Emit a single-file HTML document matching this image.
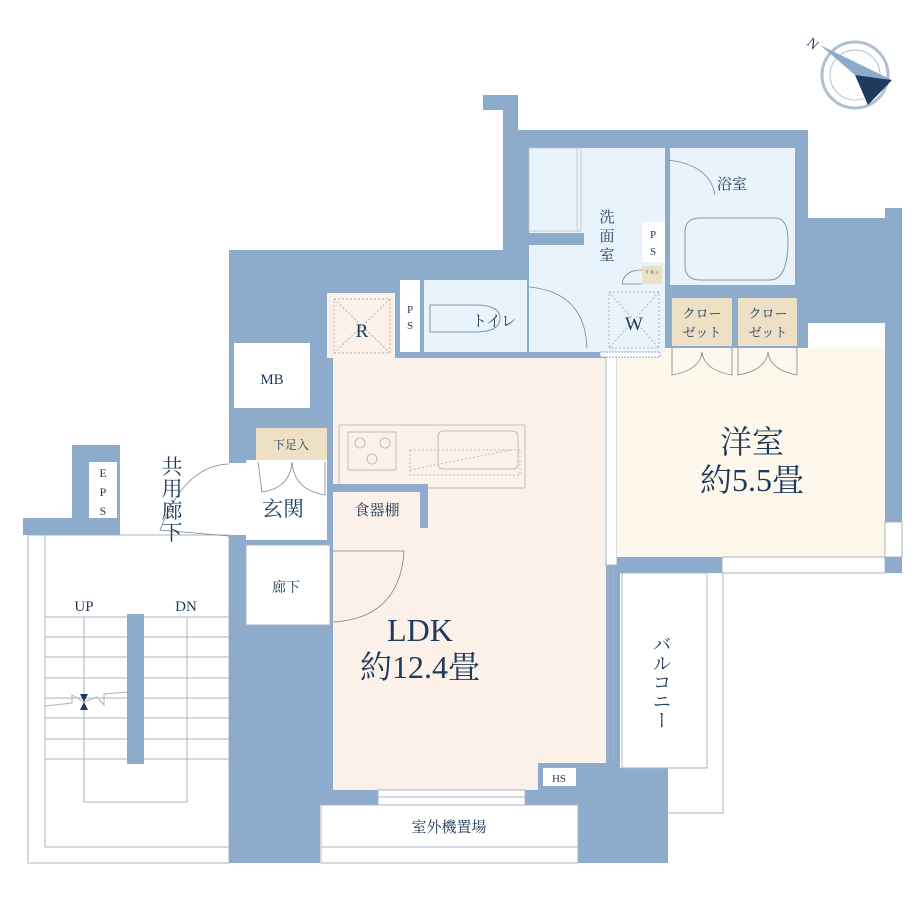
<!DOCTYPE html>
<html><head><meta charset="utf-8"><style>
body{margin:0;background:#fff}
svg{display:block}
text{font-family:"Liberation Serif","Noto Serif CJK SC",serif;fill:#1e3a5c}
</style></head><body>
<svg width="920" height="920" viewBox="0 0 920 920" xmlns="http://www.w3.org/2000/svg">
<rect width="920" height="920" fill="#fff"/>
<g stroke="#a9b5c2" stroke-width="1" fill="none">
<rect x="28" y="535" width="201" height="328"/>
<line x1="45" y1="535" x2="45" y2="847"/><line x1="45" y1="847" x2="229" y2="847"/>
<rect x="84" y="617" width="103" height="185"/>
<line x1="45" y1="617" x2="229" y2="617"/><line x1="45" y1="637" x2="229" y2="637"/><line x1="45" y1="657" x2="229" y2="657"/><line x1="45" y1="678" x2="229" y2="678"/><line x1="45" y1="698" x2="229" y2="698"/><line x1="45" y1="718" x2="229" y2="718"/><line x1="45" y1="739" x2="229" y2="739"/><line x1="45" y1="759" x2="229" y2="759"/>
<polyline points="45,706 72,703 72,695 84,702 97,697 104,705 104,694 127,692"/>
</g>
<rect x="127" y="614" width="17" height="150" fill="#8dabcb"/>
<path d="M80,694 L88,694 L84,702 Z M80,710 L88,710 L84,702 Z" fill="#1e3a5c"/>
<text x="84" y="611" font-size="15" text-anchor="middle">UP</text>
<text x="186" y="611" font-size="15" text-anchor="middle">DN</text>
<path d="M23,518 H72 V445 H120 V535 H23 Z" fill="#8dabcb"/>
<rect x="89" y="462" width="28" height="56" fill="#fff"/>
<text x="103" y="477" font-size="12" text-anchor="middle">E</text>
<text x="103" y="496" font-size="12" text-anchor="middle">P</text>
<text x="103" y="515" font-size="12" text-anchor="middle">S</text>
<path d="M229,250 H503 V110 H483 V95 H518 V130 H808 V218 H885 V208 H902 V573 H885 V557 H722 V573 H620 V763 H668 V863 H578 V805 H320 V863 H229 Z" fill="#8dabcb"/>
<rect x="620" y="573" width="102" height="195" fill="#fff"/>
<g stroke="#a9b5c2" fill="none">
<rect x="622" y="573" width="85" height="195"/>
<polyline points="668,813 723,813 723,573"/>
<line x1="608" y1="565" x2="608" y2="760"/><line x1="613" y1="565" x2="613" y2="760"/>
</g>
<rect x="321" y="805" width="257" height="58" fill="#fff" stroke="#a9b5c2"/>
<line x1="321" y1="847" x2="578" y2="847" stroke="#a9b5c2"/>
<text x="449" y="832" font-size="15" text-anchor="middle">室外機置場</text>
<path d="M333,358 H606 V763 H538 V790 H333 Z" fill="#fcf1e8"/>
<rect x="378" y="790" width="147" height="15" fill="#fff" stroke="#a9b5c2"/>
<line x1="378" y1="797" x2="525" y2="797" stroke="#a9b5c2"/>
<rect x="543" y="768" width="33" height="18" fill="#fff"/>
<text x="559" y="782" font-size="11" text-anchor="middle">HS</text>
<rect x="606" y="352" width="11" height="213" fill="#fff" stroke="#a9b5c2"/>
<rect x="617" y="348" width="268" height="209" fill="#fef8ec"/>
<rect x="885" y="522" width="17" height="35" fill="#fff" stroke="#a9b5c2"/>
<rect x="722" y="557" width="163" height="16" fill="#fff" stroke="#a9b5c2"/>
<rect x="808" y="323" width="77" height="25" fill="#fff"/>
<rect x="672" y="298" width="60" height="48" fill="#ede0c4"/>
<rect x="738" y="298" width="59" height="48" fill="#ede0c4"/>
<text x="702" y="318" font-size="13" text-anchor="middle">クロー</text>
<text x="702" y="337" font-size="13" text-anchor="middle">ゼット</text>
<text x="768" y="318" font-size="13" text-anchor="middle">クロー</text>
<text x="768" y="337" font-size="13" text-anchor="middle">ゼット</text>
<g stroke="#7a8794" fill="none" stroke-width="0.8">
<path d="M672,348 V375 Q700,370 702,352 Q704,370 732,375 V348"/>
<path d="M738,348 V375 Q766,370 768,352 Q770,370 797,375 V348"/>
</g>
<text x="752" y="453" font-size="32" text-anchor="middle">洋室</text>
<text x="752" y="491" font-size="32" text-anchor="middle">約5.5畳</text>
<rect x="529" y="148" width="136" height="142" fill="#e9f3fb"/>
<rect x="529" y="225" width="136" height="127" fill="#e9f3fb"/>
<rect x="529" y="233" width="55" height="12" fill="#8dabcb"/>
<rect x="529" y="148" width="52" height="83" fill="#e9f3fb" stroke="#b8c4d0" stroke-width="0.8"/>
<line x1="577" y1="148" x2="577" y2="231" stroke="#b8c4d0" stroke-width="0.8"/>
<rect x="600" y="290" width="60" height="62" fill="#e9f3fb"/>
<g stroke="#9aa5b0" fill="none" stroke-dasharray="2,2" stroke-width="0.8"><rect x="609" y="292" width="50" height="56"/><line x1="609" y1="292" x2="659" y2="348"/><line x1="659" y1="292" x2="609" y2="348"/></g>
<text x="634" y="330" font-size="19" text-anchor="middle">W</text>
<rect x="600" y="352" width="60" height="5" fill="#fff" stroke="#8dabcb" stroke-dasharray="2,1"/>
<text x="607" y="222" font-size="15" text-anchor="middle">洗</text>
<text x="607" y="241" font-size="15" text-anchor="middle">面</text>
<text x="607" y="260" font-size="15" text-anchor="middle">室</text>
<rect x="642" y="222" width="23" height="40" fill="#fff"/>
<text x="653" y="238" font-size="11" text-anchor="middle">P</text>
<text x="653" y="255" font-size="11" text-anchor="middle">S</text>
<rect x="642" y="266" width="20" height="18" fill="#ede0c4"/>
<text x="652" y="274" font-size="5" text-anchor="middle">リネン</text>
<path d="M642,270 Q624,270 622,284 H642" fill="none" stroke="#7a8794" stroke-width="0.8"/>
<rect x="670" y="148" width="125" height="137" fill="#e9f3fb"/>
<path d="M685,232 Q685,218 700,218 L775,218 Q788,218 788,240 Q788,280 770,280 L700,280 Q685,280 685,265 Z" fill="none" stroke="#8a96a3"/>
<path d="M668,160 Q710,165 715,195" fill="none" stroke="#7a8794" stroke-width="0.8"/>
<text x="732" y="189" font-size="15" text-anchor="middle">浴室</text>
<rect x="424" y="280" width="103" height="72" fill="#e9f3fb"/>
<path d="M430,305 H475 Q500,305 500,318 Q500,332 475,332 H430 Z" fill="none" stroke="#8a96a3"/>
<text x="494" y="326" font-size="15" text-anchor="middle">トイレ</text>
<path d="M529,287 Q585,292 587,348" fill="none" stroke="#7a8794" stroke-width="0.8"/>
<rect x="400" y="280" width="20" height="72" fill="#fff"/>
<text x="410" y="313" font-size="11" text-anchor="middle">P</text>
<text x="410" y="329" font-size="11" text-anchor="middle">S</text>
<rect x="327" y="293" width="68" height="65" fill="#fcf1e8"/>
<g stroke="#9aa5b0" fill="none" stroke-dasharray="2,2" stroke-width="0.8"><rect x="334" y="299" width="56" height="54"/><line x1="334" y1="299" x2="390" y2="353"/><line x1="390" y1="299" x2="334" y2="353"/></g>
<text x="362" y="337" font-size="19" text-anchor="middle">R</text>
<rect x="234" y="343" width="76" height="65" fill="#fff"/>
<text x="272" y="384" font-size="15" text-anchor="middle">MB</text>
<rect x="256" y="428" width="71" height="32" fill="#ede0c4"/>
<text x="291" y="449" font-size="12" text-anchor="middle">下足入</text>
<rect x="246" y="460" width="81" height="80" fill="#fff"/>
<path d="M258,462 L262,492 Q290,488 292,462 Q294,490 325,495 V462" fill="none" stroke="#7a8794" stroke-width="0.8"/>
<text x="283" y="516" font-size="21" text-anchor="middle">玄関</text>
<rect x="229" y="463" width="17" height="72" fill="#fff"/>
<path d="M229,464 Q185,465 160,530 L229,536" fill="none" stroke="#7a8794" stroke-width="0.8"/>
<text x="172" y="474" font-size="21" text-anchor="middle">共</text>
<text x="172" y="496" font-size="21" text-anchor="middle">用</text>
<text x="172" y="518" font-size="21" text-anchor="middle">廊</text>
<text x="172" y="540" font-size="21" text-anchor="middle">下</text>
<rect x="246" y="545" width="84" height="80" fill="#fff" stroke="#a9b5c2"/>
<text x="286" y="592" font-size="14" text-anchor="middle">廊下</text>
<path d="M333,551 H404 Q400,618 333,622" fill="none" stroke="#7a8794" stroke-width="0.8"/>
<g stroke="#b7b0a8" fill="none" stroke-width="0.8">
<rect x="339" y="425" width="186" height="63"/>
<rect x="348" y="432" width="48" height="38"/>
<circle cx="360" cy="443" r="5"/><circle cx="385" cy="443" r="5"/><circle cx="372" cy="459" r="5"/>
<rect x="438" y="431" width="80" height="38" rx="5"/>
<line x1="410" y1="470" x2="510" y2="450" stroke-dasharray="2,2"/>
<rect x="410" y="450" width="110" height="25" stroke-dasharray="2,2"/>
</g>
<path d="M329,484 H428 V528 H420 V492 H333 V528 H329 Z" fill="#8dabcb"/>
<rect x="333" y="492" width="87" height="36" fill="#fcf1e8"/>
<text x="377" y="515" font-size="15" text-anchor="middle">食器棚</text>
<text x="420" y="641" font-size="32" text-anchor="middle">LDK</text>
<text x="420" y="678" font-size="32" text-anchor="middle">約12.4畳</text>
<text x="660" y="682" font-size="19" text-anchor="middle" writing-mode="tb">バルコニー</text>
<circle cx="855" cy="75" r="33" fill="#fff" stroke="#b0c0d2" stroke-width="3"/>
<circle cx="855" cy="75" r="25" fill="none" stroke="#b0c0d2"/>
<path d="M820,45 L892,80 L855,75 Z" fill="#8dabcb"/>
<path d="M855,75 L892,80 L868,105 Z" fill="#1e3a5c"/>
<text x="806" y="44" font-size="14" transform="rotate(40 806 44)">N</text>
</svg>
</body></html>
